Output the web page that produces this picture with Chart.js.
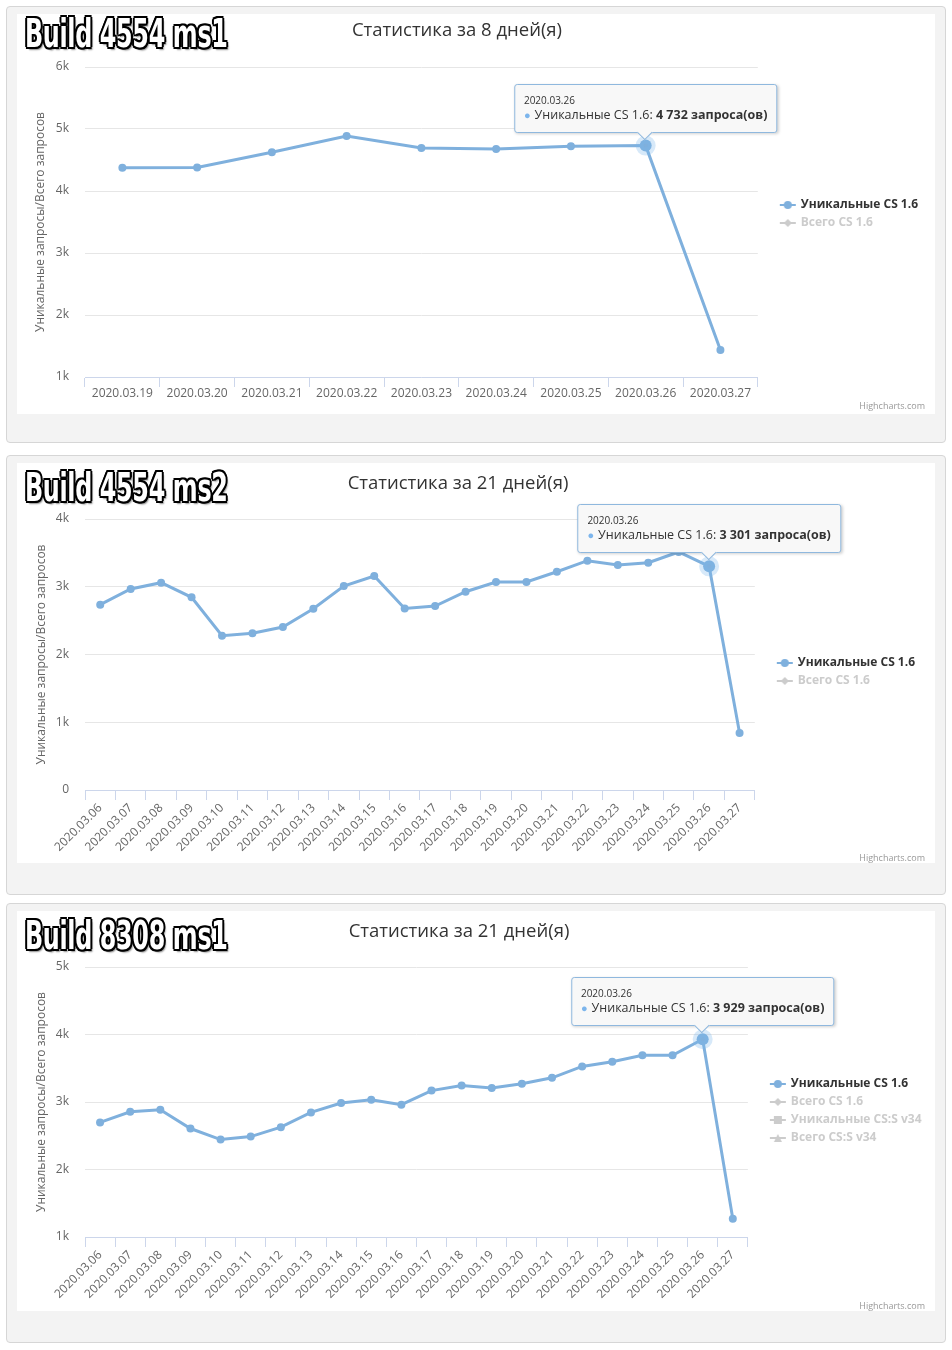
<!DOCTYPE html>
<html><head><meta charset="utf-8">
<script src="https://cdn.jsdelivr.net/npm/chart.js@4.4.1/dist/chart.umd.min.js"></script>
<style>
html,body{margin:0;padding:0;background:#fff;}
body{width:952px;height:1350px;position:relative;overflow:hidden;font-family:'Open Sans',sans-serif;}
.panel{position:absolute;left:6px;width:940px;background:#f3f3f3;border:1px solid #d6d6d6;border-radius:4px;box-sizing:border-box;}
.inner{position:absolute;left:17px;width:918px;height:400px;background:#fff;}
.inner canvas{position:absolute;left:0;top:0;}
.build{position:absolute;left:8px;font-family:'Liberation Sans Narrow','DejaVu Sans Condensed',sans-serif;font-weight:bold;font-size:39px;line-height:39px;color:#fff;transform:scaleX(0.68);transform-origin:0 0;white-space:nowrap;letter-spacing:-0.5px;
text-shadow:-2px -2px 0 #000,2px -2px 0 #000,-2px 2px 0 #000,2px 2px 0 #000,0 -2px 0 #000,0 2px 0 #000,-2px 0 0 #000,2px 0 0 #000,-3px 0 0 #000,3px 0 0 #000,3px 3px 2px rgba(0,0,0,0.45);z-index:3;}
.credit{position:absolute;right:10px;font-size:9px;line-height:12px;color:#999;}
.tt{position:absolute;pointer-events:none;transform:translate(-50%,calc(-100% - 13px));background:#f8f8f8;border:1px solid #8fb8de;border-radius:3px;padding:8px 9px 9px 9px;white-space:nowrap;box-shadow:1px 1px 3px rgba(0,0,0,0.18);color:#333;font-family:'Open Sans',sans-serif;z-index:4;}
.tt .t{font-size:10px;line-height:14px;}
.tt .b{font-size:12.5px;line-height:16px;}
.tt .dot{color:#7cb5ec;font-size:11px;margin-right:4px;}
.tt:after{content:'';position:absolute;left:50%;bottom:-6px;width:10px;height:10px;margin-left:-6px;background:#f8f8f8;border-right:1px solid #8fb8de;border-bottom:1px solid #8fb8de;transform:rotate(45deg);}
</style>
</head><body>

<div class="panel" style="top:6px;height:437px;"></div>
<div class="panel" style="top:455px;height:440px;"></div>
<div class="panel" style="top:903px;height:440px;"></div>

<div class="inner" id="w1" style="top:14px;">
  <div class="build" style="top:0px;">Build 4554 ms1</div>
  <canvas id="c1" width="918" height="400"></canvas>
  <div class="credit" style="top:386px;">Highcharts.com</div>
</div>
<div class="inner" id="w2" style="top:463px;">
  <div class="build" style="top:5px;">Build 4554 ms2</div>
  <canvas id="c2" width="918" height="400"></canvas>
  <div class="credit" style="top:389px;">Highcharts.com</div>
</div>
<div class="inner" id="w3" style="top:911px;">
  <div class="build" style="top:5px;">Build 8308 ms1</div>
  <canvas id="c3" width="918" height="400"></canvas>
  <div class="credit" style="top:389px;">Highcharts.com</div>
</div>

<script>
// ---------- DATA ----------
const chart1Title = 'Статистика за 8 дней(я)';
const chart1Dates = ['2020.03.19','2020.03.20','2020.03.21','2020.03.22','2020.03.23','2020.03.24','2020.03.25','2020.03.26','2020.03.27'];
const chart1Unique = [4376, 4380, 4624, 4887, 4694, 4677, 4720, 4732, 1435];
const chart1Series = ['Уникальные CS 1.6', 'Всего CS 1.6'];
const chart1YRange = [1000, 6000];

const chart2Title = 'Статистика за 21 дней(я)';
const chart2Dates = ['2020.03.06','2020.03.07','2020.03.08','2020.03.09','2020.03.10','2020.03.11','2020.03.12','2020.03.13','2020.03.14','2020.03.15','2020.03.16','2020.03.17','2020.03.18','2020.03.19','2020.03.20','2020.03.21','2020.03.22','2020.03.23','2020.03.24','2020.03.25','2020.03.26','2020.03.27'];
const chart2Unique = [2735, 2967, 3060, 2844, 2278, 2313, 2406, 2676, 3011, 3159, 2680, 2716, 2927, 3070, 3070, 3222, 3385, 3321, 3355, 3513, 3301, 840];
const chart2Series = ['Уникальные CS 1.6', 'Всего CS 1.6'];
const chart2YRange = [0, 4000];

const chart3Title = 'Статистика за 21 дней(я)';
const chart3Dates = ['2020.03.06','2020.03.07','2020.03.08','2020.03.09','2020.03.10','2020.03.11','2020.03.12','2020.03.13','2020.03.14','2020.03.15','2020.03.16','2020.03.17','2020.03.18','2020.03.19','2020.03.20','2020.03.21','2020.03.22','2020.03.23','2020.03.24','2020.03.25','2020.03.26','2020.03.27'];
const chart3Unique = [2697, 2855, 2885, 2607, 2443, 2488, 2627, 2846, 2985, 3034, 2960, 3169, 3244, 3209, 3269, 3358, 3527, 3597, 3691, 3691, 3929, 1270];
const chart3Series = ['Уникальные CS 1.6', 'Всего CS 1.6', 'Уникальные CS:S v34', 'Всего CS:S v34'];
const chart3YRange = [1000, 5000];

const yAxisTitle = 'Уникальные запросы/Всего запросов';
const tooltipDate = '2020.03.26';
const tooltipUnit = 'запроса(ов)';

// ---------- STYLE ----------
Chart.defaults.font.family = "'Open Sans', sans-serif";
Chart.defaults.color = '#666';
const LINE = '#7fb0dd';
const GRAY = '#cccccc';
const shapes = ['circle', 'diamond', 'square', 'triangle'];
const BOXW = 31;      // legend symbol slot (includes left gap to the plot)
const MARKW = 35;     // marker image width, drawn centred in the slot

function marker(shape, color) {
  const c = document.createElement('canvas');
  c.width = MARKW; c.height = 12;
  const g = c.getContext('2d');
  const cx = BOXW / 2 - 7 + MARKW / 2;   // symbol centre sits 13px left of the text
  g.strokeStyle = color; g.lineWidth = 2;
  g.beginPath(); g.moveTo(cx - 8, 6); g.lineTo(cx + 8, 6); g.stroke();
  g.fillStyle = color; g.beginPath();
  if (shape === 'circle') g.arc(cx, 6, 4, 0, Math.PI * 2);
  else if (shape === 'diamond') { g.moveTo(cx, 2); g.lineTo(cx + 4, 6); g.lineTo(cx, 10); g.lineTo(cx - 4, 6); g.closePath(); }
  else if (shape === 'square') g.rect(cx - 4, 2, 8, 8);
  else { g.moveTo(cx, 2); g.lineTo(cx + 4, 10); g.lineTo(cx - 4, 10); g.closePath(); }
  g.fill();
  return c;
}

const fmt = v => String(v).replace(/\B(?=(\d{3})+(?!\d))/g, ' ');

function externalTooltip(ctx) {
  const {chart, tooltip} = ctx;
  const wrap = chart.canvas.parentNode;
  let el = wrap.querySelector('.tt');
  if (!el) { el = document.createElement('div'); el.className = 'tt'; wrap.appendChild(el); }
  if (tooltip.opacity === 0 || !tooltip.dataPoints || !tooltip.dataPoints.length) { el.style.display = 'none'; return; }
  const dp = tooltip.dataPoints[0];
  el.style.display = 'block';
  el.innerHTML = '<div class="t">' + dp.label + '</div><div class="b"><span class="dot">●</span>' +
    dp.dataset.label + ': <b>' + fmt(dp.raw) + ' ' + tooltipUnit + '</b></div>';
  el.style.left = tooltip.caretX + 'px';
  el.style.top = tooltip.caretY + 'px';
}

function makeChart(id, cfg) {
  const datasets = cfg.series.map((name, i) => i === 0 ? {
    label: name, data: cfg.values, yAxisID: 'y',
    borderColor: LINE, backgroundColor: LINE, borderWidth: 3, tension: 0,
    pointRadius: 4, pointBackgroundColor: LINE, pointBorderWidth: 0,
    pointHoverRadius: 6, pointHoverBackgroundColor: LINE,
    pointHoverBorderColor: 'rgba(124,181,236,0.3)', pointHoverBorderWidth: 8
  } : { label: name, data: [], yAxisID: 'y', hidden: true, borderColor: GRAY, backgroundColor: GRAY });

  const chart = new Chart(document.getElementById(id), {
    type: 'line',
    data: { labels: cfg.labels, datasets },
    options: {
      responsive: false, animation: false, events: [],
      layout: { padding: { left: cfg.padL, right: cfg.padR, top: 0, bottom: 0 } },
      plugins: {
        title: { display: true, text: cfg.title, color: '#333', font: { size: 18.5, weight: 'normal', lineHeight: 1.2 },
                 padding: { top: cfg.titleTop, bottom: cfg.titleBottom } },
        legend: {
          position: 'right', align: 'center',
          title: { display: cfg.legendShift > 0, text: '', font: { size: cfg.legendShift || 1, lineHeight: 1 }, padding: 0 },
          labels: {
            usePointStyle: true, pointStyleWidth: BOXW, padding: 6, color: '#333',
            font: { size: 12, weight: 'bold', lineHeight: 1 },
            generateLabels: (ch) => ch.data.datasets.map((ds, i) => ({
              text: ds.label, datasetIndex: i, hidden: false,
              fillStyle: ds.borderColor, strokeStyle: ds.borderColor, lineWidth: 0,
              fontColor: i === 0 ? '#333333' : GRAY,
              pointStyle: marker(shapes[i], i === 0 ? LINE : GRAY)
            }))
          }
        },
        tooltip: { enabled: false, external: externalTooltip }
      },
      scales: {
        x: {
          type: 'category', offset: true,
          grid: { offset: true, drawOnChartArea: false, drawTicks: true, tickLength: 10, color: '#ccd6eb' },
          border: { display: true, color: '#ccd6eb' },
          ticks: { autoSkip: false, minRotation: cfg.rot, maxRotation: cfg.rot, padding: cfg.xPad, color: '#666', font: { size: 12 } },
          afterFit: s => { s.height = cfg.xHeight; }
        },
        y: {
          type: 'linear', min: cfg.yRange[0], max: cfg.yRange[1],
          grid: { color: '#e6e6e6', drawTicks: false },
          border: { display: false },
          ticks: { stepSize: 1000, padding: 16, color: '#666', font: { size: 12 },
                   callback: v => v === 0 ? '0' : (v / 1000) + 'k' },
          title: { display: true, text: yAxisTitle, color: '#666', font: { size: 12 },
                   padding: { top: cfg.yTitleX - 7.2 - cfg.padL, bottom: 0 } },
          afterFit: s => { s.width = 68 - cfg.padL; }
        }
      }
    }
  });
  const idx = cfg.labels.indexOf(tooltipDate);
  chart.setActiveElements([{ datasetIndex: 0, index: idx }]);
  chart.tooltip.setActiveElements([{ datasetIndex: 0, index: idx }], { x: 0, y: 0 });
  chart.render();
  return chart;
}

makeChart('c1', { title: chart1Title, labels: chart1Dates, values: chart1Unique, series: chart1Series, yRange: chart1YRange,
  titleTop: 5.9, titleBottom: 24.9, xHeight: 37, xPad: -1, rot: 0, padR: 7, padL: -31, yTitleX: 24, legendShift: 0 });
makeChart('c2', { title: chart2Title, labels: chart2Dates, values: chart2Unique, series: chart2Series, yRange: chart2YRange,
  titleTop: 9.9, titleBottom: 23.9, xHeight: 73, xPad: 1, rot: 45, padR: 10, padL: -26, yTitleX: 25, legendShift: 18 });
makeChart('c3', { title: chart3Title, labels: chart3Dates, values: chart3Unique, series: chart3Series, yRange: chart3YRange,
  titleTop: 9.9, titleBottom: 23.9, xHeight: 74, xPad: 1, rot: 45, padR: 3.5, padL: -30.5, yTitleX: 25, legendShift: 0 });
</script>
</body></html>
